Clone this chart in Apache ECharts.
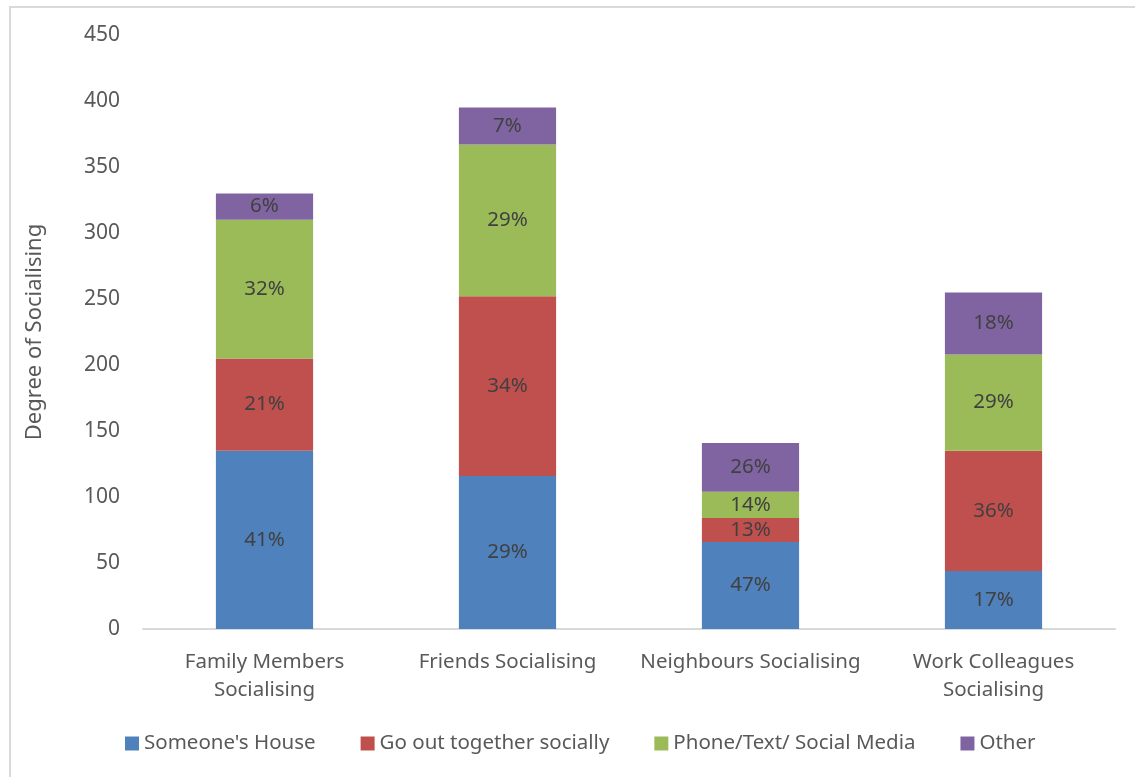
<!DOCTYPE html>
<html>
<head>
<meta charset="utf-8">
<script src="https://cdn.jsdelivr.net/npm/echarts@6/dist/echarts.min.js"></script>
<style>
  html, body { margin: 0; padding: 0; background: #fff; }
  .frame {
    position: absolute; left: 9px; top: 6px; width: 1140px; height: 790px;
    border: 2px solid #d9d9d9; box-sizing: border-box;
  }
  #main { position: absolute; left: 0; top: 0; width: 1135px; height: 777px; }
</style>
</head>
<body>
<div class="frame"></div>
<div id="main"></div>
<script>
const categories = ["Family Members\nSocialising", "Friends Socialising", "Neighbours Socialising", "Work Colleagues\nSocialising"];
const seriesNames = ["Someone's House", "Go out together socially", "Phone/Text/ Social Media", "Other"];
const someonesHouse = [135, 116, 66, 44];
const goOut = [70, 136, 18, 91];
const phoneText = [105, 115, 20, 73];
const other = [20, 28, 37, 47];
const colors = ["#4f81bd", "#c0504d", "#9bbb59", "#8064a2"];

const allSeries = [someonesHouse, goOut, phoneText, other];
const totals = categories.map((c, i) => allSeries.reduce((s, arr) => s + arr[i], 0));

const font = "'Noto Sans', 'Open Sans', sans-serif";
const chart = echarts.init(document.getElementById("main"));

chart.setOption({
  animation: false,
  textStyle: { fontFamily: font },
  grid: { left: 143, right: 20, top: 35, bottom: 148 },
  legend: {
    bottom: 18,
    left: 120,
    itemWidth: 14,
    itemHeight: 14,
    itemGap: 45,
    icon: "rect",
    textStyle: { fontSize: 20.5, color: "#595959", fontFamily: font },
    data: seriesNames
  },
  xAxis: {
    type: "category",
    data: categories,
    axisLine: { lineStyle: { color: "#d9d9d9", width: 2 } },
    axisTick: { show: false },
    axisLabel: { fontSize: 20.5, color: "#595959", lineHeight: 28, margin: 19, interval: 0 }
  },
  yAxis: {
    type: "value",
    min: 0,
    max: 450,
    interval: 50,
    name: "Degree of Socialising",
    nameLocation: "middle",
    nameGap: 97,
    nameTextStyle: { fontSize: 22, color: "#595959" },
    splitLine: { show: false },
    axisLine: { show: false },
    axisTick: { show: false },
    axisLabel: { fontSize: 21, color: "#595959", margin: 23 }
  },
  series: allSeries.map((arr, k) => ({
    name: seriesNames[k],
    type: "bar",
    stack: "total",
    barWidth: "40%",
    data: arr,
    itemStyle: { color: colors[k] },
    label: {
      show: true,
      position: "inside",
      fontSize: 20.5,
      color: "#404040",
      formatter: p => Math.round(p.value / totals[p.dataIndex] * 100) + "%"
    }
  }))
});
</script>
</body>
</html>
